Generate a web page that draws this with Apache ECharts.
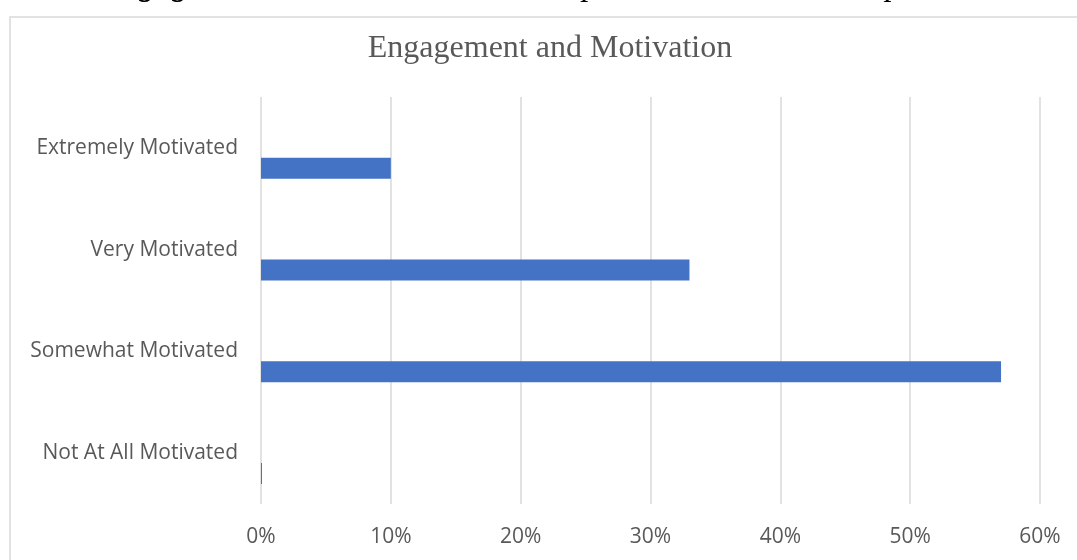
<!DOCTYPE html>
<html>
<head>
<meta charset="utf-8">
<script src="https://cdn.jsdelivr.net/npm/echarts@6/dist/echarts.min.js"></script>
<style>
  html, body { margin: 0; padding: 0; background: #fff; }
  #main { width: 1077px; height: 560px; }
</style>
</head>
<body>
<div id="main"></div>
<script>
// categories bottom -> top, as the category axis goes upward
const categories = ['Not At All Motivated', 'Somewhat Motivated', 'Very Motivated', 'Extremely Motivated'];
const motivation = [0, 57, 33, 10];
// second (empty) series of the original sheet, keeps the bars off centre
const emptySeries = [null, null, null, null];
const xTicks = [0, 10, 20, 30, 40, 50, 60];

const chart = echarts.init(document.getElementById('main'));
chart.setOption({
  animation: false,
  title: {
    text: 'Engagement and Motivation',
    left: 545,
    top: 28,
    textAlign: 'center',
    textStyle: {
      fontFamily: 'Liberation Serif',
      fontWeight: 'normal',
      fontSize: 32,
      color: '#595959'
    }
  },
  graphic: [{
    type: 'rect',
    shape: { x: 10, y: 17, width: 1100, height: 600 },
    style: { fill: 'none', stroke: '#d9d9d9', lineWidth: 1.5 },
    silent: true
  }, {
    type: 'text',
    left: -5,
    top: -30,
    style: {
      text: 'Student Engagement and Motivation to Complete the Individual Capstone',
      font: 'italic 33px "Liberation Serif"',
      fill: '#000'
    },
    silent: true
  }],
  grid: {
    left: 261,
    right: 37,
    top: 97,
    bottom: 56
  },
  xAxis: {
    type: 'value',
    min: xTicks[0],
    max: xTicks[xTicks.length - 1],
    interval: 10,
    axisLine: { show: false },
    axisTick: { show: false },
    splitLine: { lineStyle: { color: '#d9d9d9', width: 1.5 } },
    axisLabel: {
      formatter: '{value}%',
      margin: 23,
      fontFamily: 'Open Sans',
      fontSize: 21,
      color: '#595959'
    }
  },
  yAxis: {
    type: 'category',
    data: categories,
    axisLine: { show: false },
    axisTick: { show: false },
    axisLabel: {
      margin: 23,
      fontFamily: 'Open Sans',
      fontSize: 21,
      color: '#595959'
    }
  },
  series: [{
    name: 'Blank',
    type: 'bar',
    data: emptySeries,
    barWidth: 21,
    barGap: '95%',
    itemStyle: { color: '#ed7d31' }
  }, {
    name: 'Motivation',
    type: 'bar',
    data: motivation,
    barWidth: 21,
    barGap: '95%',
    barMinHeight: 1,
    itemStyle: { color: '#4472C4' }
  }]
});
</script>
</body>
</html>
